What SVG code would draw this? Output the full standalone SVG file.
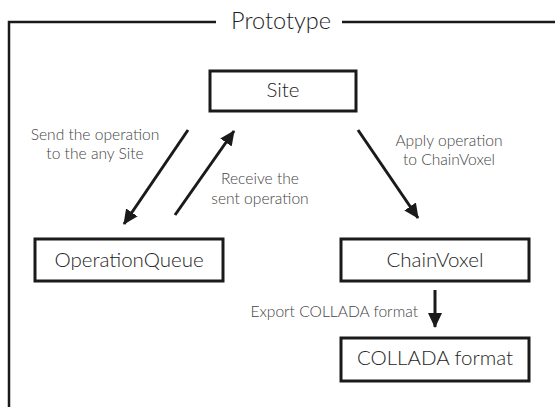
<svg xmlns="http://www.w3.org/2000/svg" width="555" height="407" viewBox="0 0 555 407">
<style>
  .box { fill: #ffffff; stroke: #1a1a1a; stroke-width: 3; }
  .ntext { font-family: Lato, "Liberation Sans", sans-serif; font-weight: 300; font-size: 20.5px; fill: #1e1e1e; text-anchor: middle; }
  .lbl { font-family: Lato, "Liberation Sans", sans-serif; font-weight: 300; font-size: 15.6px; fill: #444444; text-anchor: middle; }
  .title { font-family: Lato, "Liberation Sans", sans-serif; font-weight: 300; font-size: 23.5px; fill: #1e1e1e; text-anchor: middle; }
  .frame { fill: none; stroke: #1a1a1a; stroke-width: 2.5; }
  .edge { fill: none; stroke: #1a1a1a; stroke-width: 3; marker-end: url(#arrow); }
</style>
<defs>
  <marker id="arrow" markerUnits="userSpaceOnUse" markerWidth="16" markerHeight="16" viewBox="0 0 16 16" refX="14" refY="8" orient="auto">
    <path d="M0,1 L15,8 L0,15 Z" fill="#1a1a1a"/>
  </marker>
</defs>
<rect width="555" height="407" fill="#ffffff"/>
<g id="frame">
  <path class="frame" d="M9,407 L9,22 L216,22 M342,22 L555,22"/>
  <text class="title" x="281" y="29">Prototype</text>
</g>
<g id="connectors">
  <line class="edge" x1="188" y1="130" x2="124" y2="224"/>
  <line class="edge" x1="175" y1="215" x2="234" y2="131"/>
  <line class="edge" x1="358" y1="130" x2="418" y2="218"/>
  <line class="edge" x1="435" y1="290" x2="435" y2="327"/>
  <text class="lbl" x="95" y="140">Send the operation</text>
  <text class="lbl" x="95" y="159">to the any Site</text>
  <text class="lbl" x="260" y="184">Receive the</text>
  <text class="lbl" x="260" y="204">sent operation</text>
  <text class="lbl" x="449" y="146">Apply operation</text>
  <text class="lbl" x="449" y="165">to ChainVoxel</text>
  <text class="lbl" x="418" y="317" style="text-anchor:end">Export COLLADA format</text>
</g>
<g id="site">
  <rect class="box" x="210" y="71" width="146" height="40"/>
  <text class="ntext" x="283" y="97">Site</text>
</g>
<g id="operationqueue">
  <rect class="box" x="35" y="239" width="188" height="42"/>
  <text class="ntext" x="129" y="267">OperationQueue</text>
</g>
<g id="chainvoxel">
  <rect class="box" x="341" y="239" width="188" height="42"/>
  <text class="ntext" x="435" y="267">ChainVoxel</text>
</g>
<g id="collada">
  <rect class="box" x="341" y="338" width="188" height="43"/>
  <text class="ntext" x="435" y="365">COLLADA format</text>
</g>
</svg>
